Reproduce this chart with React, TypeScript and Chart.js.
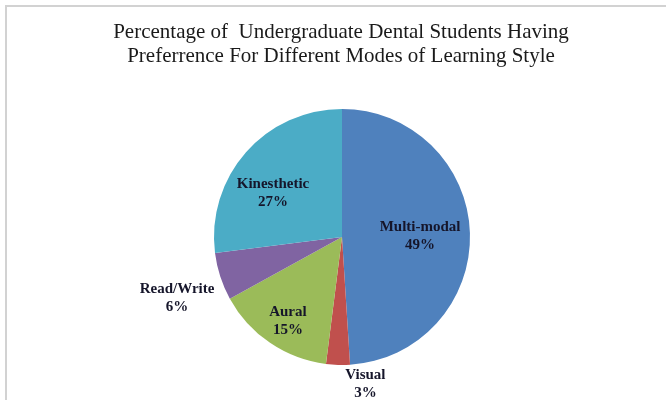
import React, { useEffect, useRef } from "react";
import { Chart, registerables } from "chart.js";

Chart.register(...registerables);

const titleLines = [
  "Percentage of  Undergraduate Dental Students Having",
  "Preferrence For Different Modes of Learning Style",
];
const categories = ["Multi-modal", "Visual", "Aural", "Read/Write", "Kinesthetic"];
const percentages = [49, 3, 15, 6, 27];
const sliceColors = ["#4F81BD", "#C0504D", "#9BBB59", "#8064A2", "#4BACC6"];

// label placement: radial fraction of outer radius plus small nudges
const labelPlacement = [
  { f: 0.61, dx: 0, dy: 2 },
  { f: 1.15, dx: 28, dy: 0 },
  { f: 0.78, dx: 2, dy: 2 },
  { f: 1.355, dx: 0, dy: 8 },
  { f: 0.625, dx: -9, dy: 9 },
];

const titlePlugin = {
  id: "freeTitle",
  afterDraw(chart: any) {
    const ctx = chart.ctx;
    ctx.save();
    ctx.font = "21px 'Liberation Serif', 'Times New Roman', serif";
    ctx.fillStyle = "#1a1a1a";
    ctx.textAlign = "center";
    ctx.textBaseline = "alphabetic";
    titleLines.forEach((line, i) => {
      ctx.fillText(line, 341, 38 + i * 23.5);
    });
    ctx.restore();
  },
};

const sliceLabelPlugin = {
  id: "sliceLabels",
  afterDatasetsDraw(chart: any) {
    const ctx = chart.ctx;
    const meta = chart.getDatasetMeta(0);
    ctx.save();
    ctx.font = "bold 15px 'Liberation Serif', 'Times New Roman', serif";
    ctx.fillStyle = "#15152a";
    ctx.textAlign = "center";
    ctx.textBaseline = "middle";
    meta.data.forEach((arc: any, i: number) => {
      const p = arc.getProps(["x", "y", "startAngle", "endAngle", "outerRadius"], true);
      const mid = (p.startAngle + p.endAngle) / 2;
      const pl = labelPlacement[i];
      const r = p.outerRadius * pl.f;
      const cx = p.x + Math.cos(mid) * r + pl.dx;
      const cy = p.y + Math.sin(mid) * r + pl.dy;
      ctx.fillText(categories[i], cx, cy - 9);
      ctx.fillText(percentages[i] + "%", cx, cy + 9);
    });
    ctx.restore();
  },
};

export default function App() {
  const ref = useRef<HTMLCanvasElement>(null);
  useEffect(() => {
    if (!ref.current) return;
    const chart = new Chart(ref.current, {
      type: "pie",
      data: {
        labels: categories,
        datasets: [
          {
            data: percentages,
            backgroundColor: sliceColors,
            borderWidth: 0,
            hoverOffset: 0,
          },
        ],
      },
      options: {
        responsive: false,
        animation: false,
        devicePixelRatio: 1,
        layout: { padding: { left: 214, right: 196, top: 109, bottom: 35 } },
        plugins: {
          legend: { display: false },
          tooltip: { enabled: false },
          title: { display: false },
        },
      },
      plugins: [sliceLabelPlugin, titlePlugin],
    });
    return () => chart.destroy();
  }, []);
  return (
    <div style={{ position: "absolute", left: 0, top: 0, width: 666, height: 400, background: "#fff", overflow: "hidden" }}>
      <div
        style={{
          position: "absolute",
          left: 5,
          top: 5,
          right: 0,
          bottom: 0,
          borderTop: "2px solid #d2d2d2",
          borderLeft: "2px solid #d2d2d2",
        }}
      />
      <canvas ref={ref} width={666} height={400} style={{ position: "absolute", left: 0, top: 0, width: 666, height: 400 }} />
    </div>
  );
}
